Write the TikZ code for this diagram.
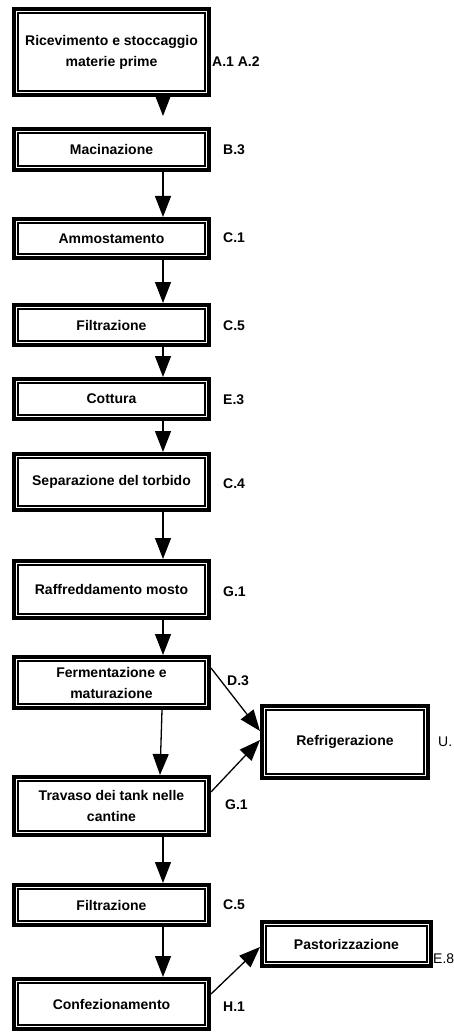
\documentclass[tikz,border=0pt]{standalone}
\usepackage{fontspec}
\setmainfont{Liberation Sans}
\usetikzlibrary{arrows.meta}
\begin{document}
\begin{tikzpicture}[x=1pt,y=-1pt,
  every node/.style={font=\fontsize{14}{21}\selectfont\bfseries},
  proc/.style={draw,line width=4pt,minimum width=195pt,inner sep=0pt,align=center},
  side/.style={draw,line width=4pt,inner sep=0pt,align=center},
  code/.style={anchor=west,inner sep=0pt},
  plaincode/.style={anchor=west,inner sep=0pt,font=\fontsize{14}{16}\selectfont},
  flow/.style={line width=1.3pt,-{Triangle[length=21pt,width=16pt]}},
  innerline/.style={line width=1.6pt}
]
\useasboundingbox (0,0) rectangle (453,1032);

% process steps (main column)
\node[proc,minimum height=86pt] (b1)  at (111.5,52)    {Ricevimento e stoccaggio\\materie prime};
\node[proc,minimum height=41pt] (b2)  at (111.5,149.5) {Macinazione};
\node[proc,minimum height=39pt] (b3)  at (111.5,238.5) {Ammostamento};
\node[proc,minimum height=40pt] (b4)  at (111.5,325)   {Filtrazione};
\node[proc,minimum height=40pt] (b5)  at (111.5,399)   {Cottura};
\node[proc,minimum height=56pt] (b6)  at (111.5,482)   {Separazione del torbido};
\node[proc,minimum height=57pt] (b7)  at (111.5,589.5) {Raffreddamento mosto};
\node[proc,minimum height=51pt] (b8)  at (111.5,682.5) {Fermentazione e\\maturazione};
\node[proc,minimum height=58pt] (b9)  at (111.5,806)   {Travaso dei tank nelle\\cantine};
\node[proc,minimum height=40pt] (b10) at (111.5,905)   {Filtrazione};
\node[proc,minimum height=50pt] (b11) at (111.5,1004)  {Confezionamento};

% side services
\node[side,minimum width=166pt,minimum height=72pt] (r) at (345,742)   {Refrigerazione};
\node[side,minimum width=169pt,minimum height=44pt] (p) at (346.5,944) {Pastorizzazione};

% inner thin frame of every double-bordered box
\foreach \n in {b1,b2,b3,b4,b5,b6,b7,b8,b9,b10,b11,r,p}
  \draw[innerline] ([shift={(6,6)}]\n.north west) rectangle ([shift={(-6,-6)}]\n.south east);

% codes
\node[code] (la)  at (212,62)   {A.1 A.2};
\node[code] (lb)  at (223,150)  {B.3};
\node[code] (lc)  at (223,238)  {C.1};
\node[code] (ld)  at (223,326)  {C.5};
\node[code] (le)  at (223,400)  {E.3};
\node[code] (lf)  at (223,484)  {C.4};
\node[code] (lg)  at (223,592)  {G.1};
\node[code] (lh)  at (227,681)  {D.3};
\node[code] (li)  at (225,805)  {G.1};
\node[code] (lj)  at (223,905)  {C.5};
\node[code] (lk)  at (223,1007) {H.1};
\node[plaincode] (lu) at (438,742) {U.};
\node[plaincode] (lp) at (433,959) {E.8};

% flow
\coordinate (t1) at (163,116);
\draw[flow] ([shift={(51.5,0)}]b1.south) -- (t1);
\draw[flow] ([shift={(51.5,0)}]b2.south) -- ([shift={(51.5,0)}]b3.north);
\draw[flow] ([shift={(51.5,0)}]b3.south) -- ([shift={(51.5,0)}]b4.north);
\draw[flow] ([shift={(51.5,0)}]b4.south) -- ([shift={(51.5,0)}]b5.north);
\draw[flow] ([shift={(51.5,0)}]b5.south) -- ([shift={(51.5,0)}]b6.north);
\draw[flow] ([shift={(51.5,0)}]b6.south) -- ([shift={(51.5,0)}]b7.north);
\draw[flow] ([shift={(51.5,0)}]b7.south) -- ([shift={(51.5,0)}]b8.north);
\draw[flow] ([shift={(50.5,0)}]b8.south) -- ([shift={(48.5,0)}]b9.north);
\draw[flow] ([shift={(51.5,0)}]b9.south) -- ([shift={(51.5,0)}]b10.north);
\draw[flow] ([shift={(51.5,0)}]b10.south) -- ([shift={(51.5,0)}]b11.north);
\draw[flow] ([shift={(0,13)}]b8.north east) -- ([shift={(0,-11)}]r.west);
\draw[flow] ([shift={(0,17)}]b9.north east) -- ([shift={(0,-2)}]r.west);
\draw[flow] ([shift={(0,17)}]b11.north east) -- ([shift={(0,3)}]p.west);
\end{tikzpicture}
\end{document}
